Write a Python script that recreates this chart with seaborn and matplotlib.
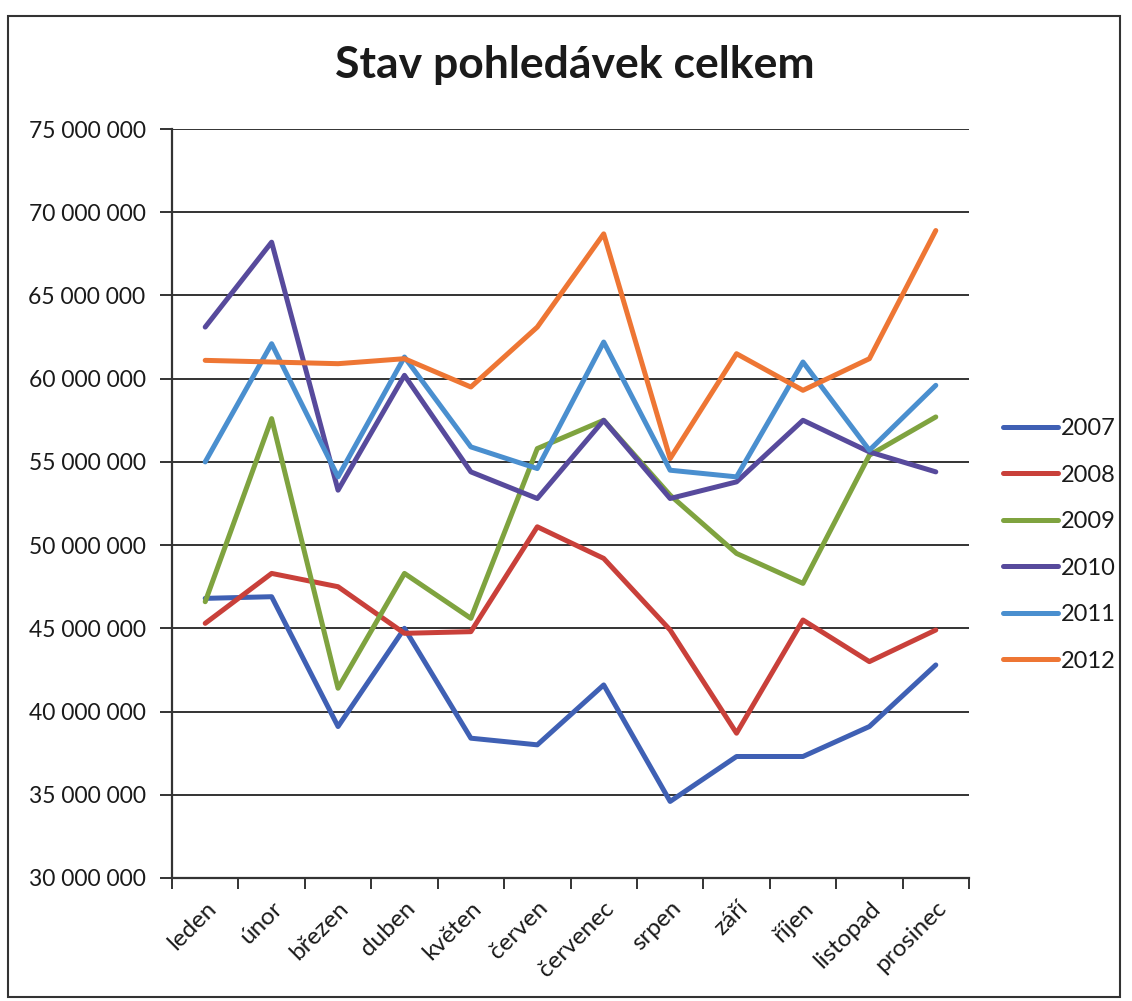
import pandas as pd
import numpy as np
import matplotlib.pyplot as plt
import seaborn as sns
from matplotlib.ticker import FuncFormatter, FixedLocator
from matplotlib.patches import Rectangle

months = ['leden', 'únor', 'březen', 'duben', 'květen', 'červen',
          'červenec', 'srpen', 'září', 'říjen', 'listopad', 'prosinec']
years = ['2007', '2008', '2009', '2010', '2011', '2012']

# hodnoty v milionech Kč
v2007 = [46.8, 46.9, 39.1, 45.0, 38.4, 38.0, 41.6, 34.6, 37.3, 37.3, 39.1, 42.8]
v2008 = [45.3, 48.3, 47.5, 44.7, 44.8, 51.1, 49.2, 44.9, 38.7, 45.5, 43.0, 44.9]
v2009 = [46.6, 57.6, 41.4, 48.3, 45.6, 55.8, 57.5, 53.0, 49.5, 47.7, 55.4, 57.7]
v2010 = [63.1, 68.2, 53.3, 60.2, 54.4, 52.8, 57.5, 52.8, 53.8, 57.5, 55.6, 54.4]
v2011 = [55.0, 62.1, 54.1, 61.3, 55.9, 54.6, 62.2, 54.5, 54.1, 61.0, 55.7, 59.6]
v2012 = [61.1, 61.0, 60.9, 61.2, 59.5, 63.1, 68.7, 55.2, 61.5, 59.3, 61.2, 68.9]

colors = ['#3F60B4', '#C9403A', '#7FA33F', '#574A9C', '#4A8FCF', '#EE7634']

df = pd.DataFrame({
    'mesic': months * len(years),
    'rok': np.repeat(years, len(months)),
    'hodnota': np.concatenate([v2007, v2008, v2009, v2010, v2011, v2012]) * 1e6,
})

sns.set_style('white')
plt.rcParams['font.family'] = ['Lato', 'DejaVu Sans']

fig = plt.figure(figsize=(11.32, 10.01), dpi=100)
ax = fig.add_axes([172 / 1132, 1 - 878 / 1001, 797 / 1132, 749 / 1001])

sns.lineplot(data=df, x='mesic', y='hodnota', hue='rok', palette=colors,
             linewidth=3.6, sort=False, ax=ax)

ax.set_xlim(-0.5, 11.5)
ax.set_ylim(30e6, 75e6)
ax.set_yticks(np.arange(30e6, 75e6 + 1, 5e6))
ax.yaxis.set_major_formatter(FuncFormatter(lambda v, p: f'{v:,.0f}'.replace(',', ' ')))
ax.grid(axis='y', color='#333333', linewidth=1.4)
ax.set_axisbelow(True)

for s in ['top', 'right']:
    ax.spines[s].set_visible(False)
ax.spines['left'].set_color('#333333')
ax.spines['left'].set_linewidth(1.6)
ax.spines['bottom'].set_color('#333333')
ax.spines['bottom'].set_linewidth(1.6)

ax.tick_params(axis='y', length=9, width=1.4, color='#333333', labelsize=16.5,
               pad=10, left=True, labelcolor='#1a1a1a')
ax.tick_params(axis='x', which='major', length=0, labelsize=17.5, pad=14,
               labelcolor='#1a1a1a')
ax.xaxis.set_minor_locator(FixedLocator(np.arange(-0.5, 12, 1)))
ax.tick_params(axis='x', which='minor', length=8, width=1.4, color='#333333', bottom=True)
plt.setp(ax.get_xticklabels(), rotation=45, ha='right', rotation_mode='anchor')

ax.set_xlabel('')
ax.set_ylabel('')

leg = ax.legend(loc='center left', bbox_to_anchor=(1003 / 1132, 1 - 545 / 1001),
                bbox_transform=fig.transFigure, frameon=False, fontsize=17,
                handlelength=2.35, handletextpad=0.12, labelspacing=1.08,
                borderpad=0, borderaxespad=0)
for ln in leg.get_lines():
    ln.set_linewidth(3.6)
for t in leg.get_texts():
    t.set_color('#1a1a1a')

fig.text(575 / 1132, 1 - 65 / 1001, 'Stav pohledávek celkem', ha='center', va='center',
         fontsize=32, fontweight='bold', color='#1a1a1a')

fig.patches.append(Rectangle((8 / 1132, 4 / 1001), 1112 / 1132, 981 / 1001,
                             transform=fig.transFigure, fill=False,
                             edgecolor='#333333', linewidth=1.5))

fig.savefig('out.png', dpi=100)
